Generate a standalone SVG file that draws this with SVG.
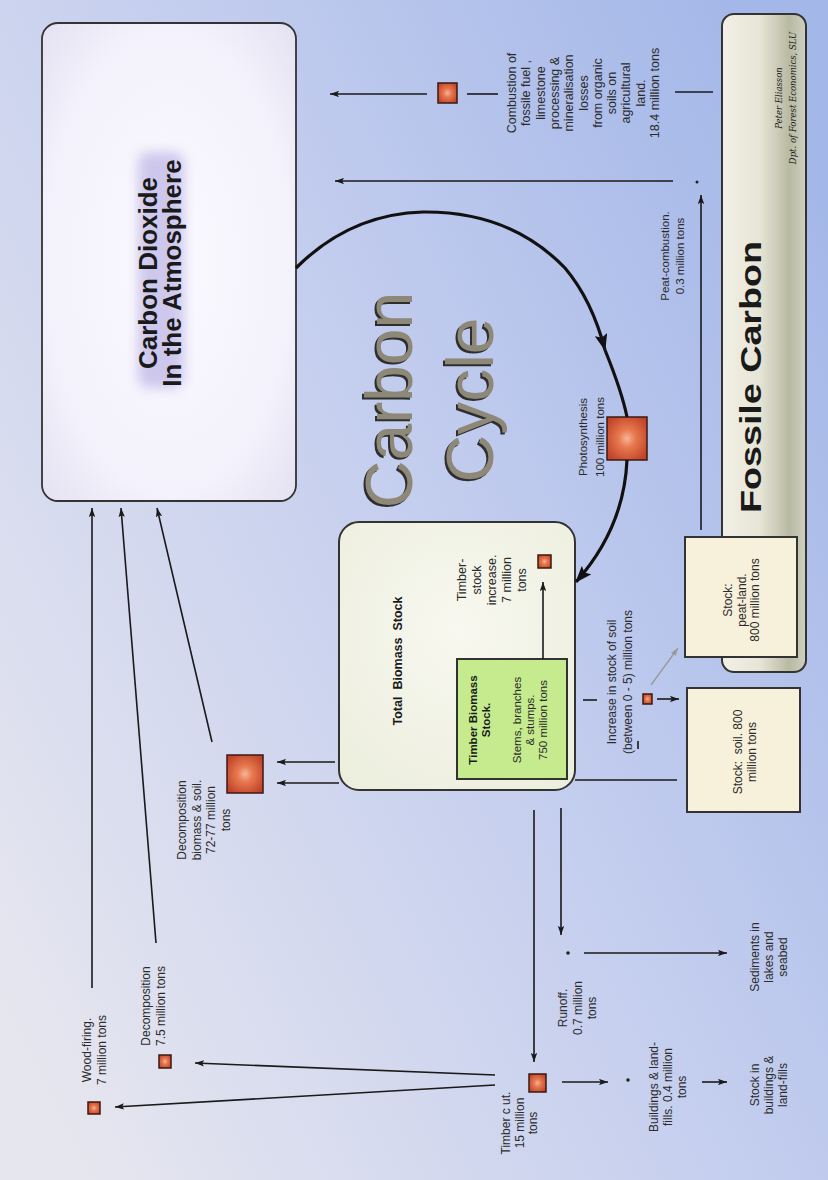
<svg xmlns="http://www.w3.org/2000/svg" width="828" height="1180" viewBox="0 0 828 1180">
<defs>
  <linearGradient id="bg" x1="1" y1="0.15" x2="0" y2="0.85">
    <stop offset="0" stop-color="#a3b7e8"/>
    <stop offset="0.45" stop-color="#c3cdee"/>
    <stop offset="1" stop-color="#e6e6ef"/>
  </linearGradient>
  <radialGradient id="atm" cx="0.5" cy="0.5" r="0.7">
    <stop offset="0" stop-color="#fbfaff"/>
    <stop offset="0.7" stop-color="#f3f1fb"/>
    <stop offset="1" stop-color="#e4e1f2"/>
  </radialGradient>
  <linearGradient id="fossil" x1="0" y1="0" x2="1" y2="0">
    <stop offset="0" stop-color="#f2f0e6"/>
    <stop offset="0.45" stop-color="#e6e5d6"/>
    <stop offset="0.8" stop-color="#b9baa3"/>
    <stop offset="1" stop-color="#cfd0c0"/>
  </linearGradient>
  <radialGradient id="bio" cx="0.5" cy="0.4" r="0.75">
    <stop offset="0" stop-color="#f8f8f0"/>
    <stop offset="1" stop-color="#eceedd"/>
  </radialGradient>
  <radialGradient id="red" cx="0.5" cy="0.5" r="0.6">
    <stop offset="0" stop-color="#f6b59a"/>
    <stop offset="0.35" stop-color="#e8794f"/>
    <stop offset="1" stop-color="#c0432a"/>
  </radialGradient>
  <filter id="blur" x="-30%" y="-30%" width="160%" height="160%">
    <feGaussianBlur stdDeviation="6"/>
  </filter>
  <marker id="ah" viewBox="0 0 10 7" refX="10" refY="3.5" markerWidth="9" markerHeight="6.5" markerUnits="userSpaceOnUse" orient="auto">
    <path d="M0,0 L10,3.5 L0,7 L2,3.5 z" fill="#1a1a1a"/>
  </marker>
  <marker id="ahg" viewBox="0 0 10 7" refX="10" refY="3.5" markerWidth="8" markerHeight="6" markerUnits="userSpaceOnUse" orient="auto">
    <path d="M0,0 L10,3.5 L0,7 z" fill="#9a9a9a"/>
  </marker>
  <marker id="ahb" viewBox="0 0 16 12" refX="15" refY="6" markerWidth="17" markerHeight="13" markerUnits="userSpaceOnUse" orient="auto">
    <path d="M0,0 L16,6 L0,12 L3,6 z" fill="#111"/>
  </marker>
</defs>
<style>
  .t { font-family: "Liberation Sans", Arial, sans-serif; fill: #2b2b2b; text-anchor: middle; }
  .s11 { font-size: 11.5px; }
  .s12 { font-size: 12px; }
  .s125 { font-size: 12.5px; }
  .b { font-weight: bold; fill: #1a1a1a; }
  .box { stroke: #333; stroke-width: 2; }
  .stock { fill: #f7f0da; stroke: #333; stroke-width: 2; }
  .sq { fill: url(#red); stroke: #3b1a10; stroke-width: 1.5; }
  .ln { stroke: #1a1a1a; stroke-width: 1.6; fill: none; }
  .arr { stroke: #1a1a1a; stroke-width: 1.6; fill: none; marker-end: url(#ah); }
  .cyc { stroke: #111; stroke-width: 3.2; fill: none; marker-end: url(#ahb); }
  .hand { font-family: "DejaVu Serif", "Liberation Serif", serif; font-style: italic; font-size: 8.5px; fill: #222; text-anchor: middle; }
</style>

<rect x="0" y="0" width="828" height="1180" fill="url(#bg)"/>

<g id="atmosphere">
  <rect x="42" y="23" width="254" height="478" rx="16" fill="url(#atm)" stroke="#333" stroke-width="1.8"/>
  <rect x="138" y="152" width="46" height="236" rx="10" fill="#bdb4e6" opacity="0.7" filter="url(#blur)"/>
  <text class="t b" style="font-size:26px" transform="translate(157,273) rotate(-90)"><tspan x="0" dy="0">Carbon Dioxide</tspan><tspan x="0" dy="24">In the Atmosphere</tspan></text>
</g>

<g id="title">
  <text class="t" style="font-size:66px;fill:#2e2e2e" transform="translate(410,402) rotate(-90)"><tspan x="0" dy="0">Carbon</tspan><tspan x="0" dy="81">Cycle</tspan></text>
  <text class="t" style="font-size:66px;fill:#8e8878" transform="translate(412,400) rotate(-90)"><tspan x="0" dy="0">Carbon</tspan><tspan x="0" dy="81">Cycle</tspan></text>
</g>

<g id="fossil-carbon">
  <rect x="722" y="14" width="84" height="658" rx="12" fill="url(#fossil)" stroke="#333" stroke-width="2"/>
  <text class="t b" style="font-size:30px" transform="translate(761,377) rotate(-90)" textLength="272" lengthAdjust="spacingAndGlyphs">Fossile Carbon</text>
  <text class="hand" transform="translate(782,98) rotate(-90)"><tspan x="0" dy="0">Peter Eliasson</tspan><tspan x="0" dy="14">Dpt. of Forest Economics, SLU</tspan></text>
</g>

<g id="peat-stock">
  <rect class="stock" x="685" y="537" width="112" height="120"/>
  <text class="t s12" transform="translate(732,600) rotate(-90)"><tspan x="0" dy="0">Stock:</tspan><tspan x="0" dy="13.5">peat-land.</tspan><tspan x="0" dy="13.5">800 million tons</tspan></text>
</g>

<g id="soil-stock">
  <rect class="stock" x="687" y="688" width="113" height="124"/>
  <text class="t s12" transform="translate(742,752) rotate(-90)" xml:space="preserve"><tspan x="0" dy="0">Stock:  soil. 800</tspan><tspan x="0" dy="13.5">million tons</tspan></text>
</g>

<g id="total-biomass">
  <rect class="box" x="339" y="522" width="236" height="268" rx="20" fill="url(#bio)"/>
  <text class="t b s125" transform="translate(402,661) rotate(-90)" xml:space="preserve">Total  Biomass  Stock</text>
</g>

<g id="timber-biomass">
  <rect x="457" y="659" width="110" height="120" fill="#c5eb8e" stroke="#333" stroke-width="2"/>
  <text class="t b" style="font-size:11.5px" transform="translate(477,720) rotate(-90)"><tspan x="0" dy="0">Timber Biomass</tspan><tspan x="0" dy="12.5">Stock.</tspan></text>
  <text class="t s11" transform="translate(521,720) rotate(-90)"><tspan x="0" dy="0">Stems, branches</tspan><tspan x="0" dy="12.5">&amp; stumps.</tspan><tspan x="0" dy="13">750 million tons</tspan></text>
</g>

<g id="photosynthesis">
  <rect class="sq" x="607" y="417" width="40" height="43"/>
  <text class="t s11" transform="translate(587,437) rotate(-90)"><tspan x="0" dy="0">Photosynthesis</tspan><tspan x="0" dy="16.5">100 million tons</tspan></text>
</g>

<g id="timber-stock-increase">
  <rect class="sq" x="538" y="555" width="13" height="13"/>
  <text class="t s125" transform="translate(466,580) rotate(-90)"><tspan x="0" dy="0">Timber-</tspan><tspan x="0" dy="15">stock</tspan><tspan x="0" dy="15">increase.</tspan><tspan x="0" dy="15">7 million</tspan><tspan x="0" dy="15">tons</tspan></text>
</g>

<g id="soil-increase">
  <rect class="sq" x="643" y="694" width="9" height="10" stroke-width="1"/>
  <text class="t s12" transform="translate(616,682) rotate(-90)"><tspan x="0" dy="0">Increase in stock of soil</tspan><tspan x="0" dy="16">(between 0 - 5) million tons</tspan></text>
</g>

<g id="combustion">
  <rect class="sq" x="438" y="83" width="19" height="20"/>
  <text class="t s125" transform="translate(516,93) rotate(-90)"><tspan x="0" dy="0">Combustion of</tspan><tspan x="0" dy="14.3">fossile fuel ,</tspan><tspan x="0" dy="14.3">limestone</tspan><tspan x="0" dy="14.3">processing &amp;</tspan><tspan x="0" dy="14.3">mineralisation</tspan><tspan x="0" dy="14.3">losses</tspan><tspan x="0" dy="14.3">from organic</tspan><tspan x="0" dy="14.3">soils on</tspan><tspan x="0" dy="14.3">agricultural</tspan><tspan x="0" dy="14.3">land.</tspan><tspan x="0" dy="14.3">18.4 million tons</tspan></text>
</g>

<g id="peat-combustion">
  <text class="t s11" transform="translate(669,256) rotate(-90)"><tspan x="0" dy="0">Peat-combustion.</tspan><tspan x="0" dy="15">0.3 million tons</tspan></text>
</g>

<g id="decomposition-biomass">
  <rect class="sq" x="227" y="755" width="36" height="38"/>
  <text class="t s12" transform="translate(186,820) rotate(-90)"><tspan x="0" dy="0">Decomposition</tspan><tspan x="0" dy="14.5">biomass &amp; soil.</tspan><tspan x="0" dy="14.5">72-77 million</tspan><tspan x="0" dy="14.5">tons</tspan></text>
</g>

<g id="wood-firing">
  <rect class="sq" x="88" y="1102" width="12" height="12" stroke-width="1.2"/>
  <text class="t s12" transform="translate(91,1050) rotate(-90)"><tspan x="0" dy="0">Wood-firing.</tspan><tspan x="0" dy="15">7 million tons</tspan></text>
</g>

<g id="decomposition-wood">
  <rect class="sq" x="159" y="1055" width="12" height="13" stroke-width="1.2"/>
  <text class="t s12" transform="translate(150,1006) rotate(-90)"><tspan x="0" dy="0">Decomposition</tspan><tspan x="0" dy="14.5">7.5 million tons</tspan></text>
</g>

<g id="timber-cut">
  <rect class="sq" x="529" y="1074" width="17" height="18" stroke-width="1.2"/>
  <text class="t s12" transform="translate(510,1123) rotate(-90)"><tspan x="0" dy="0">Timber c ut.</tspan><tspan x="0" dy="13.5">15 million</tspan><tspan x="0" dy="13.5">tons</tspan></text>
</g>

<g id="runoff">
  <circle cx="568" cy="953" r="1.8" fill="#222"/>
  <text class="t s12" transform="translate(567,1008) rotate(-90)"><tspan x="0" dy="0">Runoff.</tspan><tspan x="0" dy="14.5">0.7 million</tspan><tspan x="0" dy="14.5">tons</tspan></text>
</g>

<g id="sediments">
  <text class="t s12" transform="translate(759,957) rotate(-90)"><tspan x="0" dy="0">Sediments in</tspan><tspan x="0" dy="14">lakes and</tspan><tspan x="0" dy="14">seabed</tspan></text>
</g>

<g id="buildings">
  <circle cx="628" cy="1080" r="1.8" fill="#222"/>
  <text class="t s12" transform="translate(658,1087) rotate(-90)"><tspan x="0" dy="0">Buildings &amp; land-</tspan><tspan x="0" dy="14">fills. 0.4 million</tspan><tspan x="0" dy="14">tons</tspan></text>
</g>

<g id="stock-buildings">
  <text class="t s12" transform="translate(759,1085) rotate(-90)"><tspan x="0" dy="0">Stock in</tspan><tspan x="0" dy="14">buildings &amp;</tspan><tspan x="0" dy="14">land-fills</tspan></text>
</g>

<g id="connectors">
  <path class="cyc" d="M296,268 Q350,214 423,212 Q510,211 565,268 Q592,300 605,350"/>
  <path class="cyc" d="M605,350 Q622,392 627,417 M627,460 Q624,528 576,582"/>
  <path class="arr" d="M427,94 L330,94"/>
  <path class="ln" d="M467,94 L498,94"/>
  <path class="ln" d="M675,92 L713,92"/>
  <path class="arr" d="M673,181 L335,181"/>
  <circle cx="697" cy="182" r="1.5" fill="#222"/>
  <path class="arr" d="M701,530 L701,195"/>
  <path class="arr" d="M543,659 L543,582"/>
  <path class="ln" d="M583,700 L597,700"/>
  <path class="ln" d="M638,741 L638,749"/>
  <path class="arr" d="M657,699 L679,699"/>
  <path d="M651,685 L678,648" stroke="#9a9a9a" stroke-width="1.3" fill="none" marker-end="url(#ahg)"/>
  <path class="ln" d="M575,780 L677,780"/>
  <path class="arr" d="M335,762 L277,762"/>
  <path class="arr" d="M339,783 L277,783"/>
  <path class="arr" d="M212,742 L157,508"/>
  <path class="arr" d="M156,943 L121,508"/>
  <path class="arr" d="M92,988 L92,508"/>
  <path class="arr" d="M534,810 L534,1062"/>
  <path class="arr" d="M561,808 L561,935"/>
  <path class="arr" d="M584,953 L727,953"/>
  <path class="arr" d="M562,1082 L608,1082"/>
  <path class="arr" d="M702,1082 L727,1082"/>
  <path class="arr" d="M495,1075 L195,1063"/>
  <path class="arr" d="M495,1085 L115,1107"/>
</g>
</svg>
